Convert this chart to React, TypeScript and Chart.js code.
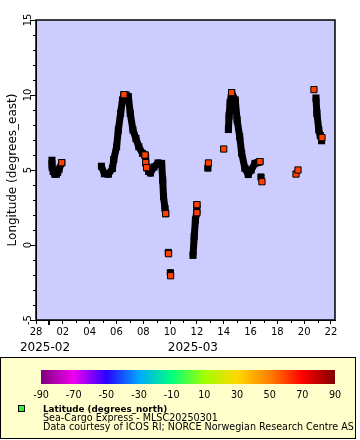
import React, { useEffect, useRef } from 'react';
import { Chart, registerables } from 'chart.js';

Chart.register(...registerables);

const FONT = "'DejaVu Sans', sans-serif";

// x values are days since 2025-02-28 00:00
const xTickDays = [0, 2, 4, 6, 8, 10, 12, 14, 16, 18, 20, 22];
const xTickLabels = ['28', '02', '04', '06', '08', '10', '12', '14', '16', '18', '20', '22'];
const monthTickDays = [0.67, 11.7];
const monthLabels = ['2025-02', '2025-03'];
const yTicks = [-5, 0, 5, 10, 15];

// dense track segments (longitude, degrees_east)
const seg1Days = [1.19, 1.2, 1.28, 1.4, 1.52, 1.62, 1.72, 1.92];
const seg1Lon = [5.65, 5.2, 4.9, 4.72, 4.72, 4.85, 5.05, 5.49];

const seg2Days = [4.88, 5.1, 5.4, 5.7, 5.8, 6.01, 6.14, 6.31, 6.45, 6.56, 6.72, 6.89, 7.03, 7.23, 7.45, 7.67, 7.94, 8.13, 8.18, 8.25, 8.4, 8.54, 8.8, 9.1, 9.37, 9.45, 9.51, 9.62, 9.67];
const seg2Lon = [5.25, 4.75, 4.72, 5.1, 5.7, 6.55, 7.67, 8.78, 9.67, 10.02, 10.0, 9.89, 8.78, 7.67, 7.1, 6.55, 6.11, 6.0, 5.49, 5.16, 4.9, 4.8, 5.2, 5.47, 5.44, 4.33, 3.22, 2.44, 2.09];

const seg3Days = [11.71, 11.8, 11.89, 11.98, 12.0];
const seg3Lon = [-0.69, 0.56, 1.67, 2.15, 2.69];

const seg4Days = [14.35, 14.4, 14.48, 14.59, 14.86, 15.0, 15.19, 15.34, 15.58, 15.83, 16.05, 16.33, 16.55, 16.7];
const seg4Lon = [7.7, 8.6, 9.5, 10.16, 9.67, 8.33, 7.22, 6.11, 5.11, 4.7, 5.0, 5.44, 5.5, 5.56];

const seg5Days = [20.88, 20.95, 21.09, 21.2, 21.3];
const seg5Lon = [9.8, 8.78, 7.67, 7.3, 6.95];

// isolated markers hidden behind others (black outline only visible)
const hiddenDays = [9.87, 10.02, 12.82, 16.78];
const hiddenLon = [-0.5, -1.85, 5.13, 4.53];

// visible samples, colored by latitude (~60 degrees_north)
const sampleDays = [1.92, 6.56, 8.13, 8.18, 8.25, 9.67, 9.89, 10.04, 12.0, 12.0, 12.86, 14.0, 14.59, 16.7, 16.85, 19.39, 19.54, 20.73, 21.33];
const sampleLon = [5.49, 10.02, 6.0, 5.49, 5.16, 2.09, -0.58, -2.05, 2.15, 2.69, 5.47, 6.4, 10.16, 5.56, 4.22, 4.73, 5.0, 10.36, 7.16];

const colorbarValues = [-90, -70, -50, -30, -10, 10, 30, 50, 70, 90];
const colorbarColors = ['#7f007f', '#f000f0', '#2a00ff', '#00a8ff', '#00ff80', '#a0ff00', '#ffd800', '#ff8000', '#ff0000', '#7f0000'];
const legendTitle = 'Latitude (degrees_north)';
const legendLines = ['Sea-Cargo Express - MLSC20250301', 'Data courtesy of ICOS RI; NORCE Norwegian Research Centre AS'];

const SAMPLE_COLOR = '#ff4000';

const toPoints = (xs: number[], ys: number[]) => xs.map((x, i) => ({ x, y: ys[i] }));

const segments = [
  [seg1Days, seg1Lon],
  [seg2Days, seg2Lon],
  [seg3Days, seg3Lon],
  [seg4Days, seg4Lon],
  [seg5Days, seg5Lon],
];

const decorPlugin = {
  id: 'decor',
  beforeDraw(chart: any) {
    const { ctx, chartArea: a } = chart;
    ctx.save();
    ctx.fillStyle = '#ffffff';
    ctx.fillRect(0, 0, chart.width, chart.height);
    ctx.fillStyle = '#ccccff';
    ctx.fillRect(a.left, a.top, a.right - a.left, a.bottom - a.top);
    ctx.restore();
  },
  afterDraw(chart: any) {
    const { ctx, chartArea: a, scales } = chart;
    const xs = scales.x;
    const ys = scales.y;
    ctx.save();
    // frame
    ctx.strokeStyle = '#000';
    ctx.lineWidth = 1.5;
    ctx.strokeRect(a.left, a.top, a.right - a.left, a.bottom - a.top);
    // minor ticks
    ctx.lineWidth = 1;
    ctx.beginPath();
    for (let v = -5; v <= 15; v++) {
      if (v % 5 === 0) continue;
      const p = Math.round(ys.getPixelForValue(v)) + 0.5;
      ctx.moveTo(a.left - 3, p);
      ctx.lineTo(a.left, p);
    }
    for (let d = 1; d <= 22; d += 2) {
      if (d === 1) continue;
      const p = Math.round(xs.getPixelForValue(d)) + 0.5;
      ctx.moveTo(p, a.bottom);
      ctx.lineTo(p, a.bottom + 3);
    }
    ctx.stroke();
    // month boundary tick (Mar 1)
    const pm = Math.round(xs.getPixelForValue(1));
    ctx.fillStyle = '#000';
    ctx.fillRect(pm - 1, a.bottom, 2, 5);

    // legend panel
    const top = 357.5;
    ctx.fillStyle = '#ffffcc';
    ctx.fillRect(0.5, top, 355, 81);
    ctx.strokeStyle = '#000';
    ctx.lineWidth = 1;
    ctx.strokeRect(0.5, top, 355, 81);

    // colorbar
    const cbL = 41, cbR = 335, cbT = 370, cbH = 14;
    const g = ctx.createLinearGradient(cbL, 0, cbR, 0);
    colorbarValues.forEach((v, i) => g.addColorStop((v + 90) / 180, colorbarColors[i]));
    ctx.fillStyle = g;
    ctx.fillRect(cbL, cbT, cbR - cbL, cbH);
    ctx.fillStyle = '#000';
    ctx.font = `9.6px ${FONT}`;
    ctx.textAlign = 'center';
    ctx.textBaseline = 'alphabetic';
    colorbarValues.forEach((v) => {
      const x = cbL + ((v + 90) / 180) * (cbR - cbL);
      ctx.fillText(String(v), x, 398);
    });

    // legend entry
    ctx.fillStyle = '#33ee33';
    ctx.fillRect(19, 406, 5, 5);
    ctx.strokeStyle = '#000';
    ctx.strokeRect(18.5, 405.5, 6, 6);
    ctx.fillStyle = '#000';
    ctx.textAlign = 'left';
    ctx.font = `bold 8.8px ${FONT}`;
    ctx.fillText(legendTitle, 43, 411.5);
    ctx.font = `9.6px ${FONT}`;
    legendLines.forEach((t, i) => ctx.fillText(t, 43, 420.5 + i * 9));
    ctx.restore();
  },
};

export default function App() {
  const ref = useRef<HTMLCanvasElement | null>(null);

  useEffect(() => {
    document.body.style.margin = '0';
    const canvas = ref.current;
    if (!canvas) return;

    const datasets: any[] = [];
    datasets.push({
      type: 'scatter',
      data: toPoints(sampleDays, sampleLon),
      pointStyle: 'rect',
      pointRadius: 4.4,
      pointBackgroundColor: SAMPLE_COLOR,
      pointBorderColor: '#000',
      pointBorderWidth: 1,
    });
    datasets.push({
      type: 'scatter',
      data: toPoints(hiddenDays, hiddenLon),
      pointStyle: 'rect',
      pointRadius: 4.4,
      pointBackgroundColor: '#000',
      pointBorderColor: '#000',
      pointBorderWidth: 1,
    });
    segments.forEach(([d, l]) => {
      datasets.push({
        type: 'line',
        data: toPoints(d, l),
        borderColor: '#000',
        borderWidth: 7,
        borderJoinStyle: 'round',
        borderCapStyle: 'butt',
        tension: 0,
        fill: false,
        pointStyle: 'rect',
        pointRadius: 5,
        pointBackgroundColor: '#000',
        pointBorderColor: '#000',
        pointBorderWidth: 0,
      });
    });

    const chart = new Chart(canvas, {
      type: 'scatter',
      data: { datasets },
      plugins: [decorPlugin],
      options: {
        responsive: false,
        animation: false,
        events: [],
        layout: { padding: { left: 0, top: 20, right: 25, bottom: 84 } },
        plugins: {
          legend: { display: false },
          tooltip: { enabled: false },
        },
        scales: {
          x: {
            type: 'linear',
            position: 'bottom',
            min: 0,
            max: 22.3,
            weight: 0,
            afterBuildTicks: (s: any) => {
              s.ticks = xTickDays.map((v) => ({ value: v }));
            },
            afterFit: (s: any) => {
              s.height = 16;
            },
            grid: { drawOnChartArea: false, drawTicks: true, tickLength: 4, color: '#000', lineWidth: 1 },
            border: { display: true, color: '#000', width: 1 },
            ticks: {
              autoSkip: false,
              maxRotation: 0,
              padding: 2,
              color: '#000',
              font: { family: FONT, size: 10 },
              callback: (_v: any, i: number) => xTickLabels[i],
            },
          },
          xm: {
            type: 'linear',
            position: 'bottom',
            min: 0,
            max: 22.3,
            weight: 1,
            afterBuildTicks: (s: any) => {
              s.ticks = monthTickDays.map((v) => ({ value: v }));
            },
            afterFit: (s: any) => {
              s.height = 20;
            },
            grid: { display: false, drawTicks: false },
            border: { display: false },
            ticks: {
              autoSkip: false,
              maxRotation: 0,
              padding: 5,
              color: '#000',
              font: { family: FONT, size: 12 },
              callback: (_v: any, i: number) => monthLabels[i],
            },
          },
          y: {
            type: 'linear',
            position: 'left',
            min: -5,
            max: 15,
            afterBuildTicks: (s: any) => {
              s.ticks = yTicks.map((v) => ({ value: v }));
            },
            afterFit: (s: any) => {
              s.width = 36;
            },
            grid: { drawOnChartArea: false, drawTicks: true, tickLength: 6, color: '#000', lineWidth: 1 },
            border: { display: true, color: '#000', width: 1 },
            title: {
              display: true,
              text: 'Longitude (degrees_east)',
              color: '#000',
              font: { family: FONT, size: 12 },
              padding: { top: 6, bottom: 0 },
            },
            ticks: {
              minRotation: 90,
              maxRotation: 90,
              crossAlign: 'center',
              padding: -4.5,
              color: '#000',
              font: { family: FONT, size: 10 },
              callback: (v: any) => String(v),
            },
          },
        },
      } as any,
    });

    return () => chart.destroy();
  }, []);

  return (
    <div style={{ position: 'absolute', left: 0, top: 0, width: 360, height: 440 }}>
      <canvas ref={ref} width={360} height={440} />
    </div>
  );
}
